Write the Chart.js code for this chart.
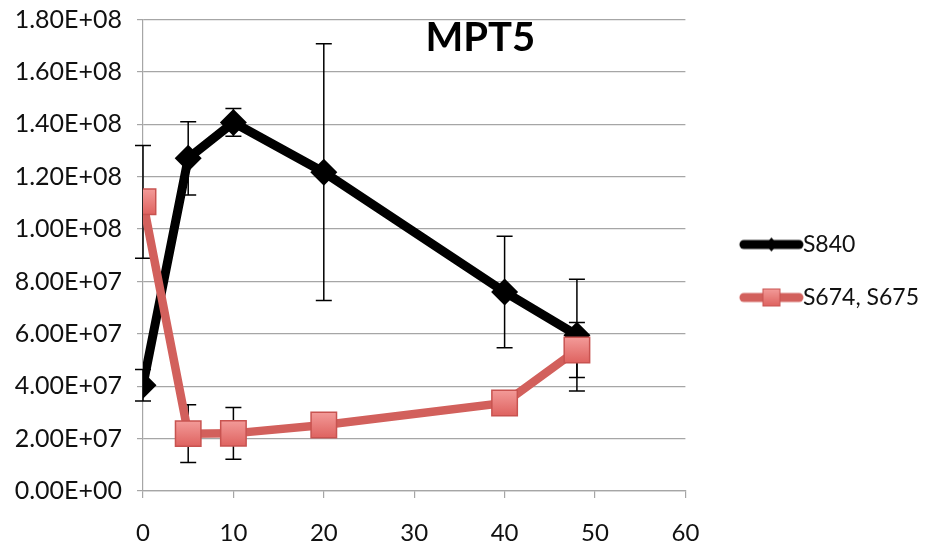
<!DOCTYPE html>
<html><head><meta charset="utf-8">
<script src="https://cdn.jsdelivr.net/npm/chart.js@4.4.0/dist/chart.umd.min.js"></script>
<style>html,body{margin:0;padding:0;background:#fff}#wrap{width:926px;height:542px}</style>
</head><body><div id="wrap"><canvas id="c" width="926" height="542"></canvas></div>
<script>
// ---- data ----
const xValues = [0, 5, 10, 20, 40, 48];
const s840 = [4.04e7, 1.27e8, 1.407e8, 1.217e8, 7.6e7, 5.95e7];
const s840Err = [6.0e6, 1.4e7, 5.3e6, 4.9e7, 2.13e7, 2.13e7];
const s674 = [1.104e8, 2.19e7, 2.2e7, 2.52e7, 3.36e7, 5.38e7];
const s674Err = [2.15e7, 1.1e7, 9.85e6, null, null, 1.05e7];
const seriesNames = ['S840', 'S674, S675'];
const xTickValues = [0, 10, 20, 30, 40, 50, 60];
const yTickValues = [0, 2e7, 4e7, 6e7, 8e7, 1e8, 1.2e8, 1.4e8, 1.6e8, 1.8e8];
const chartTitle = 'MPT5';

const FONT = 'Lato, "Open Sans", sans-serif';
const GRID = '#a6a6a6';
const BLACK = '#000000';
const RED_LINE = '#d2605c';
const RED_FILL = '#ea7d7b';
const RED_TOP = '#f39b99';
const RED_BOTTOM = '#de625f';
const RED_BORDER = '#c85350';

function sci(v) {
  if (v === 0) return '0.00E+00';
  const e = Math.floor(Math.log10(Math.abs(v)) + 1e-9);
  const m = v / Math.pow(10, e);
  const es = (e < 0 ? '-' : '+') + String(Math.abs(e)).padStart(2, '0');
  return m.toFixed(2) + 'E' + es;
}

const LEG_FS = 23, LEG_BW = 76;
function legendImage(kind) {
  const W = 2 * (LEG_BW / 2 + LEG_FS / 2 + 2), H = 30;
  const cv = document.createElement('canvas');
  cv.width = W; cv.height = H;
  const g = cv.getContext('2d');
  const cx = W / 2, cy = H / 2;
  const lineEnd = cx + LEG_BW / 2 + LEG_FS / 2 - 4;
  const lineStart = lineEnd - 55;
  const mid = (lineStart + lineEnd) / 2;
  g.lineCap = 'round';
  if (kind === 0) {
    g.strokeStyle = BLACK; g.lineWidth = 9;
    g.beginPath(); g.moveTo(lineStart, cy); g.lineTo(lineEnd, cy); g.stroke();
    g.fillStyle = BLACK;
    g.beginPath(); g.moveTo(mid, cy - 7); g.lineTo(mid + 6, cy); g.lineTo(mid, cy + 7); g.lineTo(mid - 6, cy); g.closePath(); g.fill();
  } else {
    g.strokeStyle = RED_LINE; g.lineWidth = 9;
    g.beginPath(); g.moveTo(lineStart, cy); g.lineTo(lineEnd, cy); g.stroke();
    const gr = g.createLinearGradient(0, cy - 8.5, 0, cy + 8.5);
    gr.addColorStop(0, RED_TOP); gr.addColorStop(1, RED_BOTTOM);
    g.fillStyle = gr; g.strokeStyle = RED_BORDER; g.lineWidth = 1;
    g.fillRect(mid - 8.5, cy - 8.5, 17, 17);
    g.strokeRect(mid - 8.5, cy - 8.5, 17, 17);
  }
  return cv;
}
const legendImgs = [legendImage(0), legendImage(1)];

const errorSets = [s840Err, s674Err];
const valueSets = [s840, s674];

const errorBarPlugin = {
  id: 'errorBars',
  beforeDatasetsDraw(chart) {
    const xs = chart.scales.x, ys = chart.scales.y;
    const ctx = chart.ctx;
    ctx.save();
    ctx.strokeStyle = '#000';
    ctx.lineWidth = 1.5;
    valueSets.forEach((vals, di) => {
      const errs = errorSets[di];
      vals.forEach((v, j) => {
        const e = errs[j];
        if (e == null) return;
        const x = xs.getPixelForValue(xValues[j]);
        const yHi = ys.getPixelForValue(v + e);
        const yLo = ys.getPixelForValue(v - e);
        ctx.beginPath();
        ctx.moveTo(x, yHi); ctx.lineTo(x, yLo);
        ctx.moveTo(x - 8, yHi); ctx.lineTo(x + 8, yHi);
        ctx.moveTo(x - 8, yLo); ctx.lineTo(x + 8, yLo);
        ctx.stroke();
      });
    });
    ctx.restore();
  }
};

const titlePlugin = {
  id: 'innerTitle',
  afterDraw(chart) {
    const a = chart.chartArea;
    const ctx = chart.ctx;
    ctx.save();
    ctx.font = 'bold 40px ' + FONT;
    ctx.fillStyle = '#000';
    ctx.textAlign = 'center';
    ctx.textBaseline = 'alphabetic';
    ctx.fillText(chartTitle, a.left + (a.right - a.left) * 0.622, a.top + 31);
    ctx.restore();
  }
};

function redPointFill(ctx) {
  const c = ctx.chart, ys = c.scales && c.scales.y;
  if (ctx.type !== 'data' || !ys) return RED_FILL;
  const y = ys.getPixelForValue(s674[ctx.dataIndex]);
  if (!isFinite(y)) return RED_FILL;
  const g = c.ctx.createLinearGradient(0, y - 13, 0, y + 13);
  g.addColorStop(0, RED_TOP); g.addColorStop(1, RED_BOTTOM);
  return g;
}

new Chart(document.getElementById('c'), {
  type: 'line',
  data: {
    datasets: [
      {
        label: seriesNames[0],
        data: xValues.map((x, i) => ({x, y: s840[i]})),
        borderColor: BLACK, backgroundColor: BLACK,
        borderWidth: 9, tension: 0,
        pointStyle: 'rectRot', pointRadius: 13.5,
        pointBackgroundColor: BLACK, pointBorderColor: BLACK, pointBorderWidth: 0,
        order: 1
      },
      {
        label: seriesNames[1],
        data: xValues.map((x, i) => ({x, y: s674[i]})),
        borderColor: RED_LINE, backgroundColor: RED_FILL,
        borderWidth: 8.5, tension: 0,
        pointStyle: 'rect', pointRadius: 18,
        pointBackgroundColor: redPointFill, pointBorderColor: RED_BORDER, pointBorderWidth: 1.5,
        order: 0
      }
    ]
  },
  options: {
    responsive: false,
    animation: false,
    events: [],
    layout: { padding: { left: 10, right: -3, top: 0, bottom: 0 } },
    scales: {
      x: {
        type: 'linear', min: 0, max: 60,
        afterBuildTicks(s) { s.ticks = xTickValues.map(v => ({value: v})); },
        afterFit(s) { s.height = 51; },
        grid: { drawOnChartArea: false, drawTicks: true, tickLength: 7, color: GRID, lineWidth: 1.2 },
        border: { display: true, color: GRID, width: 1.2 },
        ticks: { color: '#111', font: { family: FONT, size: 24 }, padding: 21, maxRotation: 0 }
      },
      y: {
        type: 'linear', min: 0, max: 1.8e8,
        afterBuildTicks(s) { s.ticks = yTickValues.map(v => ({value: v})); },
        afterFit(s) { s.width = 133; s.paddingTop = 19; s.paddingBottom = 0; },
        grid: { color: GRID, lineWidth: 1.2, drawTicks: true, tickLength: 6 },
        border: { display: true, color: GRID, width: 1.2 },
        ticks: { color: '#111', font: { family: FONT, size: 25 }, padding: 15, callback: v => sci(v) }
      }
    },
    plugins: {
      tooltip: { enabled: false },
      title: { display: false },
      legend: {
        display: true, position: 'right', align: 'center', maxWidth: 300,
        labels: {
          usePointStyle: true, pointStyleWidth: LEG_BW, padding: 30,
          color: '#111', font: { family: FONT, size: LEG_FS },
          generateLabels(chart) {
            return chart.data.datasets.map((ds, i) => ({
              text: ds.label, pointStyle: legendImgs[i], fillStyle: 'rgba(0,0,0,0)',
              strokeStyle: 'rgba(0,0,0,0)', lineWidth: 0, hidden: false, datasetIndex: i, fontColor: '#111'
            }));
          }
        }
      }
    }
  },
  plugins: [errorBarPlugin, titlePlugin]
});
</script></body></html>
